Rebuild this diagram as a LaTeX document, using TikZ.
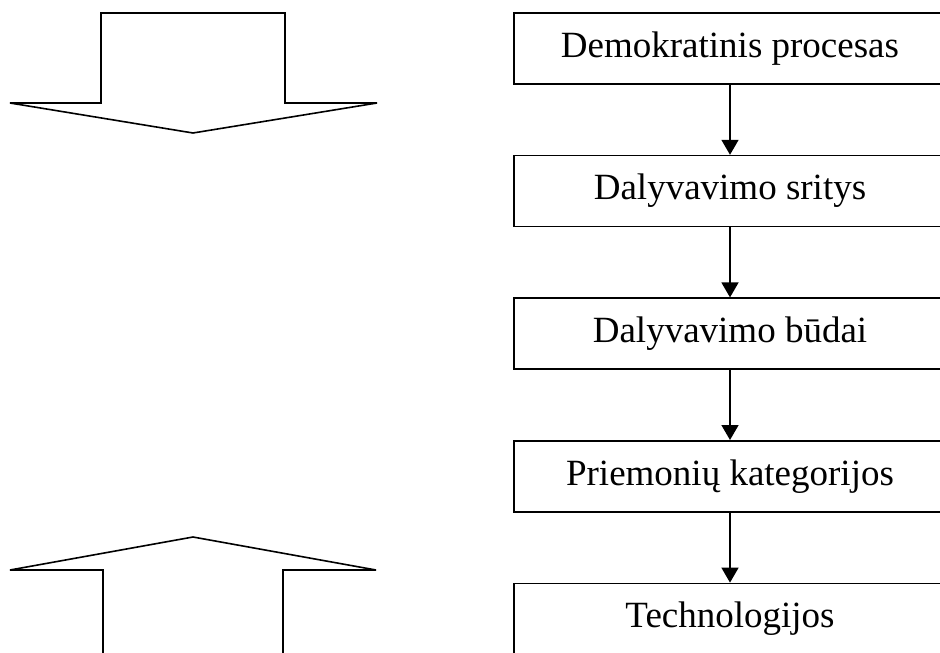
\documentclass[tikz,border=0pt]{standalone}
\usepackage{fontspec}
\setmainfont{Liberation Serif}
\usetikzlibrary{arrows.meta,positioning}

\begin{document}
\begin{tikzpicture}[
  x=1pt,y=-1pt,
  font=\fontsize{37}{44}\selectfont,
  stage/.style={draw,line width=1.6pt,minimum width=432pt,minimum height=71pt,inner sep=0pt},
  bigarrow/.style={draw,line width=1.6pt,line join=miter},
  to/.style={-{Triangle[width=17pt,length=15pt]},line width=1.6pt},
  every node/.style={align=center}]

  \useasboundingbox (0,0) rectangle (940,653);
  \clip (0,0) rectangle (940,653);

  % Position the stages one below the other
  \node[stage] (proc) at (730,48.5) {Demokratinis procesas};
  \node[stage,below=70pt of proc] (sritys) {Dalyvavimo sritys};
  \node[stage,below=70pt of sritys] (budai) {Dalyvavimo būdai};
  \node[stage,below=70pt of budai] (kateg) {Priemonių kategorijos};
  \node[stage,below=70pt of kateg] (tech) {Technologijos};

  % Draw the arrows between the stages
  \draw[to] (proc) -- (sritys);
  \draw[to] (sritys) -- (budai);
  \draw[to] (budai) -- (kateg);
  \draw[to] (kateg) -- (tech);

  % Block arrows on the left
  \draw[bigarrow] (101,13) -- (285,13) -- (285,103) -- (377,103)
    -- (193,133) -- (10,103) -- (101,103) -- cycle;
  \draw[bigarrow] (103,660) -- (103,570) -- (10,570) -- (193,537)
    -- (376,570) -- (283,570) -- (283,660);

\end{tikzpicture}
\end{document}
